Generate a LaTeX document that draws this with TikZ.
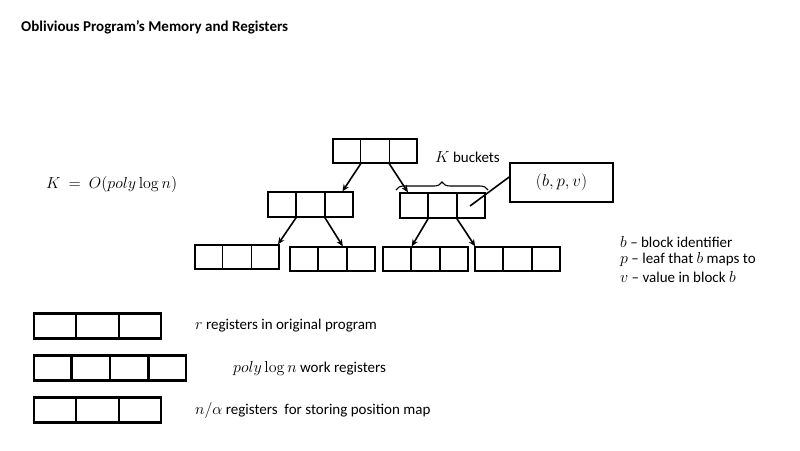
\RequirePackage{fix-cm}
\documentclass[tikz,border=0pt]{standalone}
\usepackage[no-math]{fontspec}
\setmainfont{Carlito}
\usetikzlibrary{calc,arrows.meta,decorations.pathreplacing}
\newcommand{\cellrow}[7]{% name, cx, cy, w, h, n, style
  \node[#7, minimum width=#4, minimum height=#5] (#1) at (#2,#3) {};
  \pgfmathtruncatemacro{\lastdiv}{#6-1}
  \foreach \i in {1,...,\lastdiv}{
    \draw[#7] ($(#1.north west)!\i/#6!(#1.north east)$) -- ($(#1.south west)!\i/#6!(#1.south east)$);
  }
}
\newcommand{\mth}[1]{{\fontsize{16}{18}\selectfont$#1$}}
\tikzset{
  treebox/.style={draw, line width=1.3pt, inner sep=0pt, fill=none},
  regbox/.style={draw, line width=2.6pt, inner sep=0pt, fill=none},
  treearrow/.style={line width=1.6pt, -{Stealth[length=7pt,width=6pt]}},
  lbl/.style={font=\fontsize{15}{18}\selectfont, anchor=west, inner sep=0pt},
}
\begin{document}
\begin{tikzpicture}[x=1pt,y=-1pt]
\useasboundingbox (0,0) rectangle (800,450);
\node[font=\bfseries\fontsize{15}{18}\selectfont, anchor=west, inner sep=0pt] (title) at (21,27) {Oblivious Program’s Memory and Registers};
% tree
\cellrow{top}{375}{151}{84pt}{24pt}{3}{treebox}
\cellrow{l2a}{310.5}{204.5}{85pt}{25pt}{3}{treebox}
\cellrow{l2b}{442.5}{205.5}{85pt}{25pt}{3}{treebox}
\cellrow{l3a}{237}{257}{84pt}{24pt}{3}{treebox}
\cellrow{l3b}{332.5}{259}{85pt}{24pt}{3}{treebox}
\cellrow{l3c}{425.5}{259}{85pt}{24pt}{3}{treebox}
\cellrow{l3d}{517.5}{259}{85pt}{24pt}{3}{treebox}
\draw[treearrow] ($(top.south west)!1/3!(top.south east)$) -- ($(l2a.north west)!0.87!(l2a.north east)$);
\draw[treearrow] ($(top.south west)!2/3!(top.south east)$) -- ($(l2b.north west)!0.1!(l2b.north east)$);
\draw[treearrow] ($(l2a.south west)!1/3!(l2a.south east)$) -- ($(l3a.north west)!0.98!(l3a.north east)$);
\draw[treearrow] ($(l2a.south west)!2/3!(l2a.south east)$) -- ($(l3b.north west)!0.62!(l3b.north east)$);
\draw[treearrow] ($(l2b.south west)!1/3!(l2b.south east)$) -- ($(l3c.north west)!0.34!(l3c.north east)$);
\draw[treearrow] ($(l2b.south west)!2/3!(l2b.south east)$) -- ($(l3d.north west)!0.01!(l3d.north east)$);
% brace
\coordinate (bl) at (396,190);
\coordinate (br) at (488,190);
\draw[line width=1.1pt, decorate, decoration={brace, amplitude=8pt, aspect=0.5}] (bl) -- (br);
\node[lbl] (kb) at (435,157) {\mth{K} buckets};
% callout
\node[draw, line width=1.6pt, minimum width=103pt, minimum height=39pt, inner sep=0pt] (bpv) at (561.5,182.5) {\fontsize{17}{20}\selectfont$(b,p,v)$};
\coordinate (cell3) at (470,206);
\draw[line width=1.6pt] (bpv.west |- 0,177) -- (cell3);
% K formula
\node[lbl] (kform) at (46,184) {\mth{K\ =\ O(poly\log n)}};
% legend
\node[lbl] (lb) at (620,242) {\mth{b} – block identifier};
\node[lbl] (lp) at (620,259.5) {\mth{p} – leaf that \mth{b} maps to};
\node[lbl] (lv) at (620,277) {\mth{v} – value in block \mth{b}};
% registers
\cellrow{r1}{97.5}{326}{127pt}{25pt}{3}{regbox}
\cellrow{r2}{110}{368}{152pt}{25pt}{4}{regbox}
\cellrow{r3}{97.5}{410}{127pt}{25pt}{3}{regbox}
\node[lbl] (t1) at (195,326) {\mth{r} registers in original program};
\node[lbl] (t2) at (233,368) {\mth{poly\log n} work registers};
\node[lbl] (t3) at (195,410) {\mth{n/\alpha} registers\ \ for storing position map};
\end{tikzpicture}
\end{document}
